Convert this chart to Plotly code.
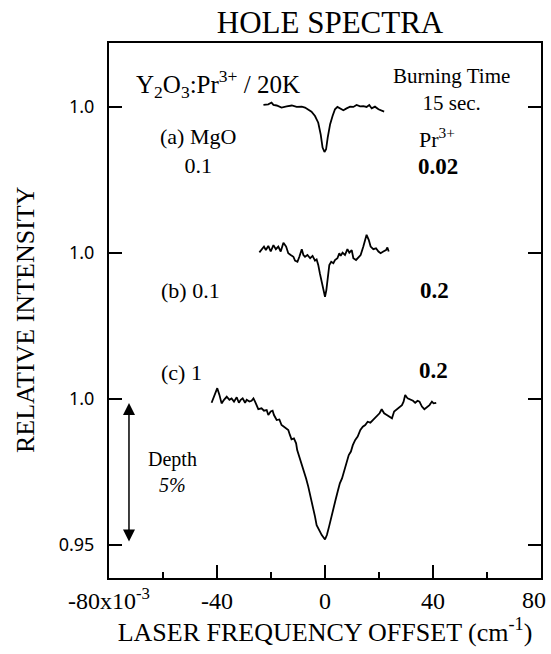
import plotly.graph_objects as go

# ---------------- data ----------------
# (a) MgO 0.1 / Pr3+ 0.02
a_x = [-22.8, -21.0, -19.8, -19.1, -17.9, -16.1, -14.2, -12.3, -10.5, -8.6, -7.4, -6.2,
       -5.0, -3.7, -2.5, -1.6, -0.9, -0.2, 0.4, 1.0, 1.9, 2.8, 3.7, 4.6, 5.6, 6.8, 8.0,
       9.3, 10.5, 11.7, 13.0, 14.2, 15.4, 16.4, 17.3, 18.5, 19.8, 21.0, 21.9]
a_y = [1.0007, 1.0009, 1.0015, 1.0007, 1.0005, 0.9998, 1.0002, 1.0005, 1.0000, 1.0001,
       0.9998, 0.9992, 0.9984, 0.9969, 0.9946, 0.9906, 0.9861, 0.9846, 0.9855, 0.9895,
       0.9941, 0.9969, 0.9992, 1.0000, 0.9995, 0.9989, 0.9995, 1.0001, 1.0000, 1.0007,
       1.0002, 1.0003, 1.0000, 1.0007, 0.9995, 1.0001, 0.9992, 0.9986, 0.9984]

# (b) MgO 0.1 / Pr3+ 0.2
b_x = [-24.3, -23.5, -22.6, -21.9, -21.0, -20.1, -19.1, -18.2, -17.3, -16.4, -15.4, -14.4,
       -13.6, -12.7, -11.7, -11.1, -10.2, -9.5, -8.6, -8.0, -7.4, -6.5, -5.5, -4.6, -3.7,
       -3.1, -2.5, -1.9, -1.2, -0.6, 0.0, 0.5, 1.0, 1.6, 2.3, 3.1, 3.7, 4.6, 5.3, 5.8, 6.5,
       7.4, 8.3, 9.0, 9.9, 10.5, 11.5, 12.3, 13.2, 14.2, 14.8, 15.4, 16.2, 16.9, 17.9, 18.9,
       19.8, 20.6, 21.6, 22.6, 23.1, 23.6]
b_y = [1.0002, 1.0013, 1.0022, 1.0010, 1.0024, 1.0005, 1.0027, 1.0013, 1.0022, 1.0005,
       1.0035, 1.0022, 0.9999, 0.9993, 0.9987, 0.9974, 0.9970, 0.9987, 1.0013, 0.9993,
       0.9987, 0.9993, 0.9982, 0.9990, 0.9974, 0.9978, 0.9959, 0.9930, 0.9896, 0.9868,
       0.9850, 0.9873, 0.9919, 0.9959, 0.9970, 0.9965, 0.9976, 0.9982, 0.9999, 0.9990,
       1.0001, 0.9993, 1.0013, 1.0001, 1.0010, 0.9982, 0.9976, 0.9985, 0.9993, 1.0022,
       1.0039, 1.0062, 1.0045, 1.0022, 1.0013, 1.0016, 1.0005, 0.9999, 1.0005, 1.0010,
       1.0019, 1.0005]

# (c) MgO 1 / Pr3+ 0.2
c_x = [-42.0, -41.1, -40.4, -39.9, -39.1, -38.3, -37.4, -36.4, -35.4, -34.6, -33.7, -32.7,
       -31.9, -31.2, -30.5, -29.6, -29.0, -28.0, -27.2, -26.5, -25.9, -25.3, -24.7, -23.5,
       -22.6, -21.6, -21.0, -20.1, -19.4, -18.9, -17.9, -16.9, -16.1, -15.2, -14.4, -13.6,
       -13.0, -12.4, -11.5, -10.7, -10.3, -9.5, -8.7, -7.8, -7.0, -6.2, -5.6, -4.9, -4.3,
       -3.7, -3.1, -2.1, -1.2, 0.0, 0.7, 1.5, 2.3, 3.0, 3.9, 4.7, 5.5, 6.3, 7.2, 8.1, 8.8,
       9.6, 10.3, 11.2, 12.1, 13.1, 14.0, 14.9, 15.8, 16.8, 17.7, 18.6, 19.2, 20.2, 21.0,
       21.9, 22.9, 23.9, 24.8, 25.6, 26.6, 27.6, 28.5, 29.1, 29.7, 30.6, 31.6, 32.6, 33.4,
       34.3, 35.0, 35.9, 36.8, 37.7, 38.7, 39.6, 40.2, 41.2]
c_y = [0.9987, 1.0008, 1.0025, 1.0037, 1.0014, 0.9985, 0.9997, 1.0008, 0.9997, 1.0002,
       0.9991, 1.0006, 0.9987, 0.9997, 1.0002, 0.9987, 0.9997, 0.9991, 0.9994, 1.0002,
       0.9991, 0.9974, 0.9965, 0.9968, 0.9960, 0.9962, 0.9945, 0.9957, 0.9960, 0.9945,
       0.9928, 0.9930, 0.9911, 0.9905, 0.9900, 0.9894, 0.9877, 0.9862, 0.9865, 0.9848,
       0.9825, 0.9803, 0.9780, 0.9751, 0.9728, 0.9700, 0.9677, 0.9654, 0.9626, 0.9597,
       0.9568, 0.9551, 0.9534, 0.9519, 0.9534, 0.9563, 0.9597, 0.9626, 0.9654, 0.9683,
       0.9711, 0.9728, 0.9757, 0.9791, 0.9808, 0.9820, 0.9842, 0.9860, 0.9871, 0.9894,
       0.9905, 0.9911, 0.9922, 0.9919, 0.9928, 0.9934, 0.9940, 0.9951, 0.9965, 0.9951,
       0.9945, 0.9940, 0.9934, 0.9957, 0.9965, 0.9974, 0.9979, 0.9991, 1.0014, 1.0002,
       0.9997, 0.9994, 0.9987, 0.9994, 0.9991, 0.9974, 0.9965, 0.9971, 0.9979, 0.9991,
       0.9985, 0.9987]

# vertical offsets used to stack the spectra on one axis
offsets = {"a": 0.10, "b": 0.05, "c": 0.0}

y_tickvals = [0.95, 1.00, 1.05, 1.10]
y_ticktext = ["0.95", "1.0", "1.0", "1.0"]
x_tickvals = [-80, -40, 0, 40, 80]
x_ticktext = ["-80x10<sup>-3</sup>", "-40", "0", "40", ""]
x_last_label = "80"   # drawn separately so it stays inside the page

SERIF = "Liberation Serif, Times New Roman, serif"

fig = go.Figure()
for xs, ys, key in [(a_x, a_y, "a"), (b_x, b_y, "b"), (c_x, c_y, "c")]:
    fig.add_trace(go.Scatter(
        x=xs, y=[v + offsets[key] for v in ys], mode="lines",
        line=dict(color="black", width=1.8), showlegend=False, hoverinfo="skip"))

ann = []
def txt(x, y, s, size=21, bold=False, xanchor="center"):
    if bold:
        s = "<b>" + s + "</b>"
    ann.append(dict(x=x, y=y, xref="x", yref="y", text=s, showarrow=False,
                    xanchor=xanchor, yanchor="middle",
                    font=dict(family=SERIF, size=size, color="black")))

txt(-39.6, 1.1079, "Y<sub>2</sub>O<sub>3</sub>:Pr<sup>3+</sup> / 20K", size=25)
txt(47.0, 1.1060, "Burning Time<br>15 sec.", size=21)
txt(-47.0, 1.0850, "(a) MgO<br>0.1", size=22)
txt(41.5, 1.0893, "Pr<sup>3+</sup>", size=22)
txt(41.9, 1.0795, "0.02", size=23, bold=True)
txt(-50.0, 1.0370, "(b) 0.1", size=22)
txt(40.7, 1.0370, "0.2", size=23, bold=True)
txt(-53.0, 1.0092, "(c) 1", size=22)
txt(40.0, 1.0099, "0.2", size=23, bold=True)
txt(-56.3, 0.9750, "Depth<br><i>5%</i>", size=20)

# depth arrow (double-headed) between 1.0 and 0.95
arrow_x = -72.6
arrow_top, arrow_bottom = 0.9986, 0.9507
ann.append(dict(x=arrow_x, y=arrow_top, ax=arrow_x, ay=arrow_bottom,
                xref="x", yref="y", axref="x", ayref="y", text="",
                showarrow=True, arrowhead=2, arrowside="end+start",
                arrowsize=1.6, arrowwidth=1.5, arrowcolor="black",
                standoff=0, startstandoff=0))

# last x tick label, right-aligned near the frame edge
ann.append(dict(x=80, y=0, xref="x", yref="paper", text=x_last_label,
                showarrow=False, xanchor="right", yanchor="middle",
                xshift=7, yshift=-22,
                font=dict(family=SERIF, size=24, color="black")))

# plot-area geometry (pixels) used to place the y-axis title
L, R, T, B = 109, 10, 43, 76
W, H = 551, 654
pw, ph = W - L - R, H - T - B
ann.append(dict(x=(25 - L) / pw, y=(H - B - 320) / ph, xref="paper", yref="paper",
                text="RELATIVE INTENSITY", textangle=-90, showarrow=False,
                xanchor="center", yanchor="middle",
                font=dict(family=SERIF, size=26, color="black")))

fig.update_layout(
    width=W, height=H,
    margin=dict(l=L, r=R, t=T, b=B),
    paper_bgcolor="white", plot_bgcolor="white",
    title=dict(text="HOLE SPECTRA", x=330/551, xanchor="center", y=1 - 22/654,
               yanchor="middle", font=dict(family=SERIF, size=31, color="black")),
    annotations=ann,
    xaxis=dict(range=[-80, 80], tickvals=x_tickvals, ticktext=x_ticktext,
               ticks="inside", ticklen=13, tickwidth=2, tickcolor="black",
               showline=True, linecolor="black", linewidth=2, mirror=True,
               showgrid=False, zeroline=False, automargin=False,
               ticklabeloverflow="allow",
               minor=dict(dtick=20, ticks="inside", ticklen=6, tickwidth=2,
                          tickcolor="black", showgrid=False),
               tickfont=dict(family=SERIF, size=24, color="black"),
               ticklabelstandoff=0,
               title=dict(text="LASER FREQUENCY OFFSET (cm<sup>-1</sup>)",
                          font=dict(family=SERIF, size=26, color="black"),
                          standoff=10)),
    yaxis=dict(range=[0.9387, 1.1219], tickvals=y_tickvals, ticktext=y_ticktext,
               ticks="inside", ticklen=13, tickwidth=2, tickcolor="black",
               showline=True, linecolor="black", linewidth=2, mirror="ticks",
               showgrid=False, zeroline=False, automargin=False,
               tickfont=dict(family="Noto Sans, DejaVu Sans, sans-serif", size=18,
                             color="black"),
               ticklabelstandoff=9),
)

fig.write_html("out.html")
